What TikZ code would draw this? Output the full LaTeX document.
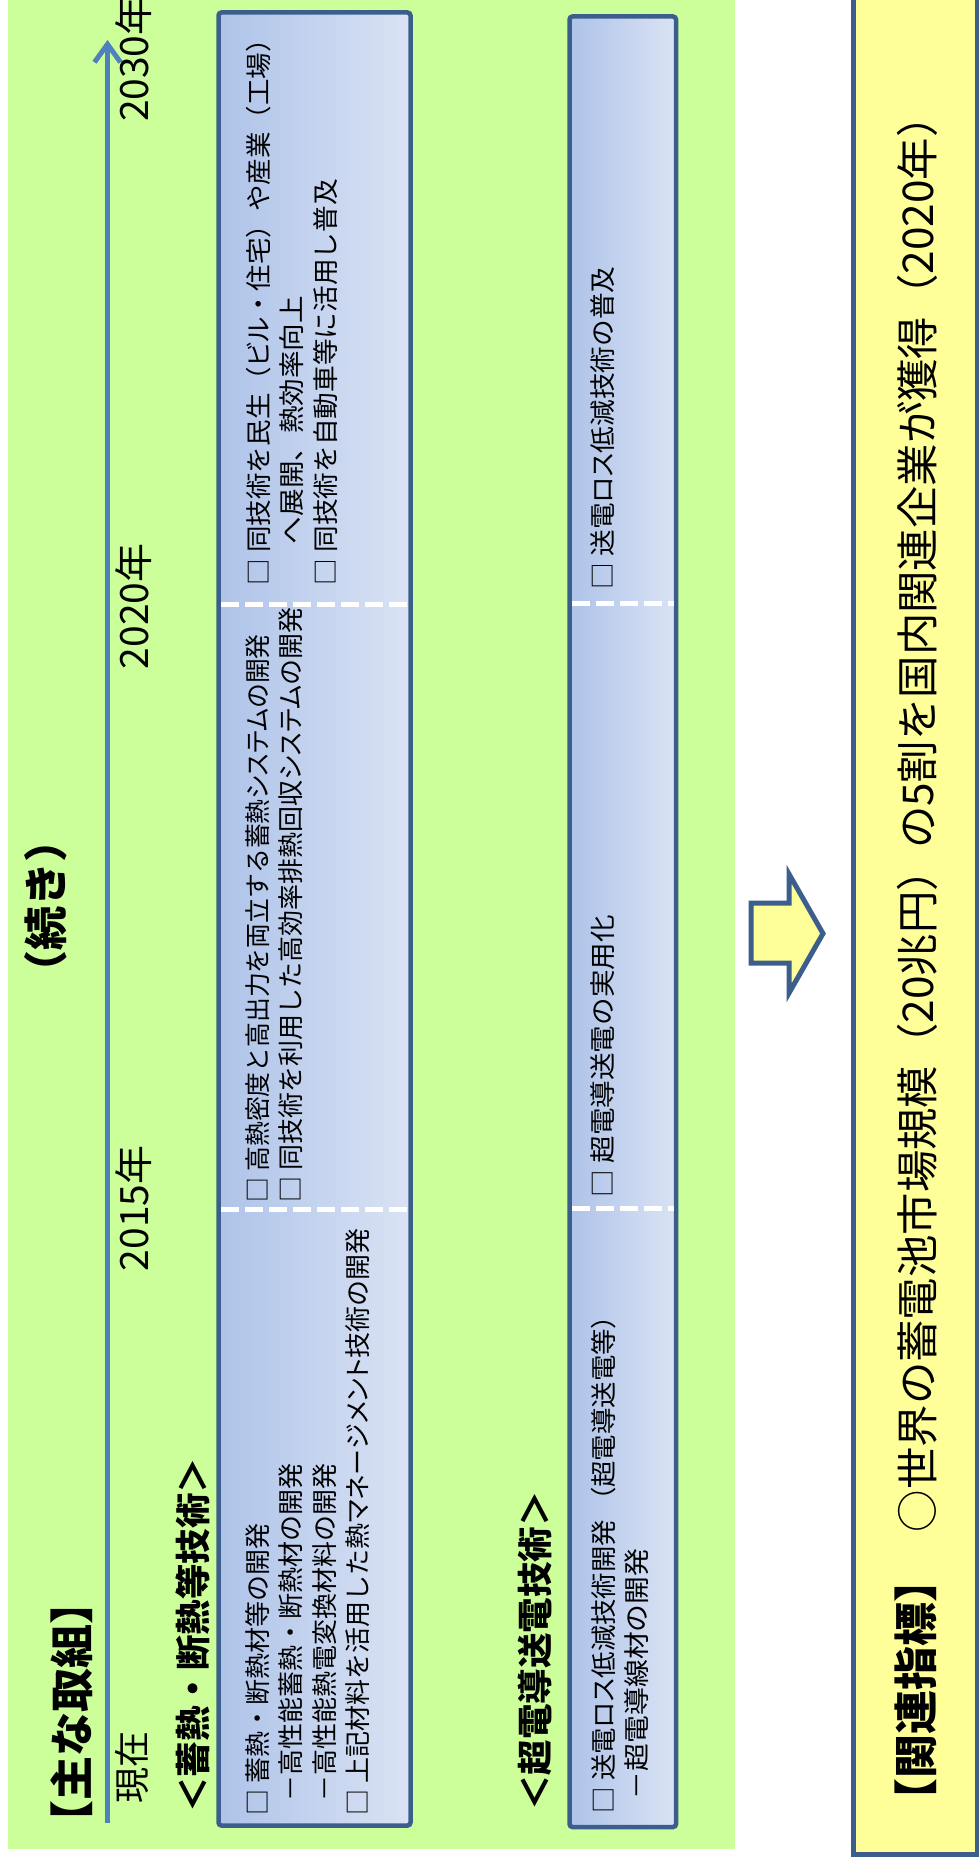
\documentclass[tikz,border=0pt]{standalone}
\usepackage{fontspec}
\setmainfont{Noto Sans CJK JP}
\usetikzlibrary{arrows.meta}
\definecolor{bggreen}{HTML}{CCFF99}
\definecolor{bgyellow}{HTML}{FFFF99}
\definecolor{dkblue}{HTML}{3B5E8C}
\definecolor{tlblue}{HTML}{4F81BD}
\definecolor{boxL}{HTML}{AEC3E9}
\definecolor{boxR}{HTML}{DAE3F4}
\newcommand{\pk}[1]{{\addfontfeature{RawFeature=+palt}#1}}
\newcommand{\ls}[2]{{\addfontfeature{FakeStretch=#1}#2}}
\begin{document}
\begin{tikzpicture}[x=1pt,y=-1pt,
  rtext/.style={rotate=90, inner sep=0pt, outer sep=0pt, text=black},
  body/.style={rtext, anchor=north west, align=left, font=\fontsize{26}{33.5}\selectfont},
  yearlbl/.style={rtext, anchor=base west, font=\fontsize{39}{47}\selectfont},
  head/.style={rtext, anchor=center, font=\fontsize{35.5}{42}\selectfont\bfseries},
  bigtitle/.style={rtext, anchor=center, font=\fontsize{44}{52}\selectfont\bfseries},
  bluebox/.style={draw=dkblue, line width=4.5pt, rounded corners=3pt, inner sep=0pt, left color=boxL, right color=boxR},
  sepline/.style={draw=white, line width=5pt, dash pattern=on 18pt off 6pt},
]
\useasboundingbox (0,0) rectangle (978,1859);
\fill[white] (0,0) rectangle (978,1859);
\fill[bggreen] (7.5,-2) rectangle (735,1849);

% timeline
\coordinate (tlb) at (107.5,1823);
\coordinate (tlt) at (107.5,40);
\draw[tlblue, line width=5pt, -{Straight Barb[length=18pt,width=26pt]}] (tlb) -- (tlt);

% headings
\node[bigtitle] (main) at (71.5,1712.5) {【主な取組】};
\node[bigtitle] (cont) at (45.5,906) {（続き）};
\node[rtext, anchor=base west, font=\fontsize{36}{44}\selectfont] (now) at (145,1803) {現在};
\node[yearlbl] (y15) at (148,1271) {2015年};
\node[yearlbl] (y20) at (148,669) {2020年};
\node[yearlbl] (y30) at (148,122) {2030年};
\node[head] (h1) at (192.5,1635) {＜蓄熱・断熱等技術＞};
\node[head] (h2) at (535,1651) {＜超電導送電技術＞};

% box 1
\node[bluebox, minimum width=192pt, minimum height=1813pt] (box1) at (314.5,919) {};
\coordinate (d1a) at (221,604); \coordinate (d1b) at (408,604);
\coordinate (d1c) at (221,1209); \coordinate (d1d) at (408,1209);
\draw[sepline] (d1a) -- (d1b);
\draw[sepline] (d1c) -- (d1d);
\node[body] (t1a) at (245.5,1815) {□ 蓄熱・断熱材等の開発\\\hspace*{14pt}－高性能蓄熱・断熱材の開発\\\hspace*{14pt}－高性能熱電変換材料の開発\\□ 上記材料を活用した熱\pk{マネージメント}技術の開発};
\node[body] (t1b) at (245.5,1202) {\ls{0.955}{□ 高熱密度と高出力を両立する蓄熱\pk{システム}の開発}\\□ 同技術を利用した高効率排熱回収\pk{システム}の開発};
\node[body] (t1c) at (246,585) {\ls{1.02}{□ 同技術を民生（\pk{ビル}・住宅）や産業（工場）}\\\hspace*{41pt}\ls{1.06}{へ展開、熱効率向上}\\\ls{1.025}{□ 同技術を自動車等に活用し普及}};

% box 2
\node[bluebox, minimum width=106.5pt, minimum height=1810.5pt] (box2) at (622.75,921.75) {};
\coordinate (d2a) at (572,603); \coordinate (d2b) at (674,603);
\coordinate (d2c) at (572,1208); \coordinate (d2d) at (674,1208);
\draw[sepline] (d2a) -- (d2b);
\draw[sepline] (d2c) -- (d2d);
\node[body] (t2a) at (591,1813) {\ls{1.016}{□ 送電\pk{ロス}低減技術開発 （超電導送電等）}\\\hspace*{14pt}\ls{1.07}{－超電導線材の開発}};
\node[body] (t2b) at (591,1197) {\ls{1.06}{□ 超電導送電の実用化}};
\node[body] (t2c) at (591,589) {\ls{1.025}{□ 送電\pk{ロス}低減技術の普及}};

% block arrow
\draw[fill=bgyellow, draw=dkblue, line width=5pt, line join=miter]
  (751,903) -- (789,903) -- (789,874) -- (823,933.5) -- (789,993) -- (789,963) -- (751,963) -- cycle;

% indicator box
\node[draw=dkblue, fill=bgyellow, line width=5pt, inner sep=0pt, minimum width=124pt, minimum height=1860pt] (ybox) at (915.5,-8.5) [anchor=north] {};
\node[bigtitle] (kt) at (916,1690) {【関連指標】};
\node[rtext, anchor=west, font=\fontsize{42.4}{50}\selectfont] (ks) at (917,1532) {○世界の蓄電池市場規模（20兆円）の5割を国内関連企業が獲得（2020年）};
\end{tikzpicture}
\end{document}
